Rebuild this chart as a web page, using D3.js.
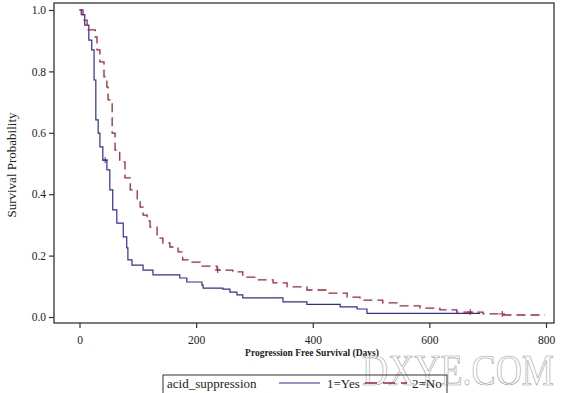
<!DOCTYPE html>
<html><head><meta charset="utf-8">
<script src="https://cdn.jsdelivr.net/npm/d3@7"></script>
<style>body{margin:0;background:#fff}svg{display:block}</style>
</head><body>
<svg id="c" width="561" height="393"></svg>
<script>
// Kaplan-Meier step points (day, survival)
const yesDays = [0,3,9,16,21,25,28,32,35,40,47,52,57,64,75,81,83,90,109,126,172,184,210,212,246,258,270,280,349,390,447,476,493,687];
const yesSurv = [1.0,0.985,0.951,0.902,0.870,0.772,0.642,0.599,0.554,0.511,0.479,0.414,0.349,0.306,0.261,0.225,0.186,0.169,0.153,0.137,0.127,0.114,0.104,0.094,0.091,0.081,0.072,0.062,0.049,0.041,0.033,0.026,0.012,0.012];
const noDays = [0,6,13,27,30,35,42,47,49,56,61,69,78,87,99,104,109,116,121,133,143,155,169,177,189,207,236,263,280,304,332,356,390,424,459,481,520,550,584,618,647,692,726,798];
const noSurv = [1.0,0.967,0.935,0.912,0.870,0.831,0.782,0.749,0.707,0.599,0.544,0.505,0.453,0.414,0.384,0.358,0.332,0.313,0.293,0.257,0.241,0.228,0.212,0.186,0.179,0.166,0.153,0.147,0.130,0.121,0.111,0.098,0.088,0.078,0.065,0.055,0.046,0.036,0.029,0.023,0.016,0.010,0.0065,0.0065];
const yesCensorDays = [44];
const noCensorDays = [237, 670, 725];
const xTicks = [0,200,400,600,800];
const yTicks = [0,0.2,0.4,0.6,0.8,1.0];
const seriesNames = ["1=Yes","2=No"];
const legendTitle = "acid_suppression";
const xTitle = "Progression Free Survival (Days)";
const yTitle = "Survival Probability";
const watermark = "DXYE.COM";

const blue = "#2E2E9A", red = "#A3243F";
const svg = d3.select("#c");
const font = "'Liberation Serif','DejaVu Serif',serif";
const x = d3.scaleLinear().domain([0,800]).range([79.5,546]);
const y = d3.scaleLinear().domain([0,1]).range([317,10]);
const fL=54, fT=3, fR=554, fB=323;

// frame
svg.append("rect").attr("x",fL).attr("y",fT).attr("width",fR-fL).attr("height",fB-fT)
  .attr("fill","none").attr("stroke","#333").attr("stroke-width",1.3);

// axes
const ya = svg.append("g").attr("transform",`translate(${fL},0)`)
  .call(d3.axisLeft(y).tickValues(yTicks).tickFormat(d3.format(".1f")).tickSize(5).tickPadding(3));
const xa = svg.append("g").attr("transform",`translate(0,${fB})`)
  .call(d3.axisBottom(x).tickValues(xTicks).tickFormat(d3.format("d")).tickSize(5).tickPadding(8));
[ya,xa].forEach(g=>{
  g.select(".domain").remove();
  g.selectAll("line").attr("stroke","#333").attr("stroke-width",1.2);
  g.selectAll("text").attr("font-family",font).attr("font-size",11.5).attr("fill","#222");
});

// titles
svg.append("text").attr("x",312).attr("y",356).attr("text-anchor","middle")
  .attr("font-family",font).attr("font-size",9.5).attr("font-weight","bold").attr("fill","#222").text(xTitle);
svg.append("text").attr("transform","translate(16,165) rotate(-90)").attr("text-anchor","middle")
  .attr("font-family",font).attr("font-size",13).attr("fill","#222").text(yTitle);

// watermark
svg.append("text").attr("x",362).attr("y",385)
  .attr("textLength",192).attr("lengthAdjust","spacingAndGlyphs")
  .attr("font-family",font).attr("font-size",44)
  .attr("fill","#ffffff").attr("fill-opacity",0.5).attr("stroke","#a0a0a0").attr("stroke-width",0.7)
  .text(watermark);

// curves
const line = d3.line().x(d=>x(d[0])).y(d=>y(d[1])).curve(d3.curveStepAfter);
const yesData = yesDays.map((d,i)=>[d,yesSurv[i]]);
const noData = noDays.map((d,i)=>[d,noSurv[i]]);
svg.append("path").datum(yesData).attr("d",line).attr("fill","none").attr("stroke",blue).attr("stroke-width",1.2);
svg.append("path").datum(noData).attr("d",line).attr("fill","none").attr("stroke",red).attr("stroke-width",1.3).attr("stroke-dasharray","9,5");

function survAt(days, surv, t){ let v=surv[0]; for(let i=0;i<days.length;i++){ if(days[i]<=t) v=surv[i]; } return v; }
function censor(ds, days, surv, col){
  ds.forEach(t=>{
    const cx=x(t), cy=y(survAt(days,surv,t));
    svg.append("path").attr("d",`M${cx-3},${cy}H${cx+3}M${cx},${cy-3}V${cy+3}`).attr("stroke",col).attr("stroke-width",1);
  });
}
censor(yesCensorDays, yesDays, yesSurv, blue);
censor(noCensorDays, noDays, noSurv, red);

// legend
const lg = svg.append("g");
lg.append("rect").attr("x",163).attr("y",375).attr("width",284).attr("height",24).attr("fill","none").attr("stroke","#333").attr("stroke-width",1);
lg.append("text").attr("x",167).attr("y",388).attr("font-family",font).attr("font-size",13).attr("fill","#222").text(legendTitle);
lg.append("line").attr("x1",279).attr("x2",320).attr("y1",383).attr("y2",383).attr("stroke",blue).attr("stroke-width",1.2);
lg.append("text").attr("x",327).attr("y",388).attr("font-family",font).attr("font-size",13).attr("fill","#222").text(seriesNames[0]);
lg.append("line").attr("x1",365).attr("x2",407).attr("y1",383).attr("y2",383).attr("stroke",red).attr("stroke-width",1.3).attr("stroke-dasharray","12,6");
lg.append("text").attr("x",412).attr("y",388).attr("font-family",font).attr("font-size",13).attr("fill","#222").text(seriesNames[1]);
</script>
</body></html>
